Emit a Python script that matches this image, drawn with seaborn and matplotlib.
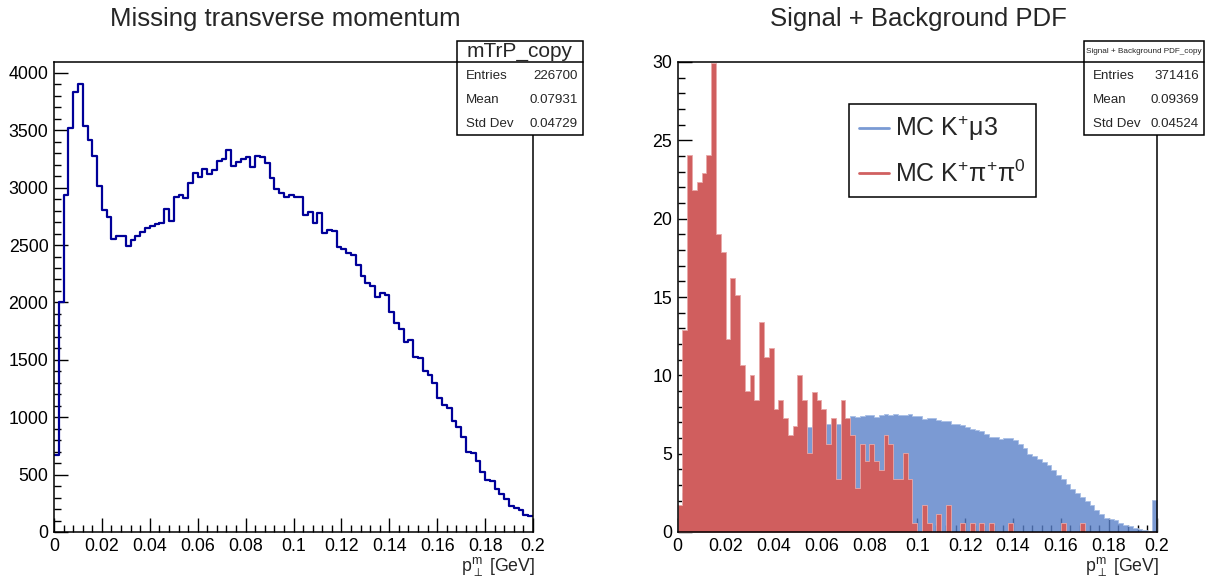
import numpy as np
import matplotlib
matplotlib.use("Agg")
import matplotlib.pyplot as plt
import seaborn as sns
from matplotlib.patches import Rectangle
from matplotlib.lines import Line2D
from matplotlib.ticker import MultipleLocator, FuncFormatter

# ---------------- data ----------------
x_min, x_max, n_bins = 0.0, 0.2, 100

# Missing transverse momentum (left), counts per bin of width 0.002
mtrp_counts = [
    670, 2000, 2937, 3518, 3832, 3904, 3541, 3416, 3280, 3015,
    2806, 2742, 2553, 2582, 2582, 2495, 2545, 2582, 2612, 2652,
    2669, 2681, 2696, 2812, 2714, 2917, 2937, 2914, 3045, 3126,
    3091, 3161, 3120, 3155, 3236, 3253, 3329, 3190, 3227, 3251,
    3271, 3178, 3280, 3265, 3219, 3088, 2986, 2951, 2922, 2937,
    2922, 2922, 2763, 2792, 2690, 2783, 2603, 2632, 2626, 2481,
    2466, 2429, 2414, 2327, 2234, 2167, 2144, 2051, 2080, 2065,
    1920, 1824, 1769, 1659, 1673, 1522, 1513, 1405, 1368, 1295,
    1164, 1106, 1077, 969, 917, 830, 700, 686, 621, 525,
    453, 447, 372, 331, 290, 227, 212, 192, 148, 139,
]

# MC K+mu3 (blue)
kmu3_values = [
    1.2, 2.5, 3.2, 3.7, 4.0, 4.3, 4.5, 4.7, 4.9, 5.05,
    5.2, 5.3, 5.45, 5.55, 5.65, 5.75, 5.85, 5.9, 6.0, 6.05,
    6.1, 6.15, 6.15, 6.1, 6.4, 6.5, 6.6, 6.7, 6.8, 6.85,
    6.9, 6.92, 7.0, 6.92, 7.1, 7.3, 7.38, 7.34, 7.38, 7.49,
    7.45, 7.34, 7.45, 7.56, 7.45, 7.56, 7.45, 7.49, 7.51, 7.38,
    7.38, 7.24, 7.28, 7.28, 7.13, 7.09, 7.09, 6.92, 6.92, 6.81,
    6.7, 6.6, 6.53, 6.45, 6.28, 6.06, 6.06, 5.96, 6.02, 6.02,
    5.9, 5.64, 5.38, 5.0, 4.83, 4.68, 4.47, 4.25, 3.98, 3.66,
    3.4, 3.08, 2.76, 2.5, 2.23, 1.98, 1.7, 1.38, 1.17, 0.92,
    0.85, 0.75, 0.6, 0.43, 0.36, 0.28, 0.21, 0.15, 0.07, 2.07,
]

# MC K+pi+pi0 (red)
k3pi_values = [
    1.70, 12.87, 24.04, 21.8, 22.34, 22.91, 24.04, 29.95, 19.0, 17.87,
    12.3, 16.2, 15.1, 10.64, 8.98, 10.04, 8.4, 13.4, 11.2, 11.74,
    7.87, 8.4, 7.3, 6.17, 6.75, 10.04, 8.4, 5.04, 8.93, 8.4,
    7.83, 5.6, 7.28, 3.36, 8.4, 7.28, 6.17, 2.83, 5.6, 4.51,
    5.6, 4.51, 3.94, 6.17, 5.6, 3.36, 3.36, 5.04, 3.36, 0.58,
    0, 1.7, 0.58, 0, 1.13, 0, 1.7, 0, 0, 0.58,
    0, 0.58, 0, 0.58, 0, 0.58, 0, 0, 0, 0.58,
    0, 0, 0, 0, 0, 0, 0, 0, 0, 0,
    0.58, 0, 0, 0, 0.58, 0, 0, 0, 0, 0,
    0, 0, 0, 0, 0, 0, 0, 0, 0, 0,
]

left_title = "Missing transverse momentum"
right_title = "Signal + Background PDF"
x_label = r"$\mathrm{p}_{\perp}^{\mathrm{m}}$ [GeV]"
legend_labels = ["MC K$^{+}$μ3", "MC K$^{+}$π$^{+}$π$^{0}$"]

left_stats_title = "mTrP_copy"
left_stats = [("Entries", "226700"), ("Mean", "0.07931"), ("Std Dev", "0.04729")]
right_stats_title = "Signal + Background PDF_copy"
right_stats = [("Entries", "371416"), ("Mean", "0.09369"), ("Std Dev", "0.04524")]

left_yticks = [0, 500, 1000, 1500, 2000, 2500, 3000, 3500, 4000]
right_yticks = [0, 5, 10, 15, 20, 25, 30]
xticks = [0, 0.02, 0.04, 0.06, 0.08, 0.1, 0.12, 0.14, 0.16, 0.18, 0.2]

# ---------------- style ----------------
sns.set_style("white")
plt.rcParams["font.family"] = ["Liberation Sans", "DejaVu Sans"]
plt.rcParams["mathtext.fontset"] = "custom"
plt.rcParams["mathtext.rm"] = "Liberation Sans"
plt.rcParams["mathtext.it"] = "Liberation Sans:italic"
plt.rcParams["mathtext.bf"] = "Liberation Sans:bold"
plt.rcParams["mathtext.fallback"] = "stixsans"

W, H = 1205, 580
fig = plt.figure(figsize=(W / 100, H / 100), dpi=100)
fig.patch.set_facecolor("white")

def fx(px):
    return px / W

def fy(py):
    return 1 - py / H

edges = np.linspace(x_min, x_max, n_bins + 1)
centers = (edges[:-1] + edges[1:]) / 2

ax_l = fig.add_axes([fx(54), fy(532), fx(479), 470 / H])
ax_r = fig.add_axes([fx(677.7), fy(532), fx(479), 470 / H])

line_col = "#000099"
blue_col = "#5a81c9"
red_col = "#d05e5e"

sns.histplot(x=centers, weights=mtrp_counts, bins=n_bins, binrange=(x_min, x_max),
             element="step", fill=False, color=line_col, linewidth=1.6, ax=ax_l)

sns.histplot(x=centers, weights=kmu3_values, bins=n_bins, binrange=(x_min, x_max),
             element="step", fill=True, color=blue_col, alpha=0.8,
             edgecolor="#a9bfe6", linewidth=0.6, ax=ax_r)
sns.histplot(x=centers, weights=k3pi_values, bins=n_bins, binrange=(x_min, x_max),
             element="step", fill=True, color=red_col, alpha=1.0,
             edgecolor="#e9a9a9", linewidth=0.6, ax=ax_r)

fmt = FuncFormatter(lambda v, p: ("%g" % round(v, 4)))

for ax, ymax, yt, ymin_step in ((ax_l, 4095, left_yticks, 100), (ax_r, 30, right_yticks, 1)):
    ax.set_xlim(x_min, x_max)
    ax.set_ylim(0, ymax)
    ax.set_xticks(xticks)
    ax.set_yticks(yt)
    ax.xaxis.set_minor_locator(MultipleLocator(0.004))
    ax.yaxis.set_minor_locator(MultipleLocator(ymin_step))
    ax.xaxis.set_major_formatter(fmt)
    ax.yaxis.set_major_formatter(fmt)
    ax.set_xlabel("")
    ax.set_ylabel("")
    ax.tick_params(which="both", direction="in", top=False, right=False,
                   bottom=True, left=True,
                   labelsize=12.8, colors="black", width=1.0, pad=4)
    ax.tick_params(which="major", length=10)
    ax.tick_params(which="minor", length=5)
    for s in ax.spines.values():
        s.set_color("black")
        s.set_linewidth(1.1)
    ax.set_facecolor("white")

ax_r.set_axisbelow(True)

# titles and axis labels
fig.text(fx(285), fy(19), left_title, ha="center", va="center", fontsize=18.5)
fig.text(fx(918), fy(19), right_title, ha="center", va="center", fontsize=18.5)
fig.text(fx(535), fy(566), x_label, ha="right", va="center", fontsize=12.8)
fig.text(fx(1159), fy(566), x_label, ha="right", va="center", fontsize=12.8)

# legend
handles = [Line2D([], [], color="#7a9ad4", lw=2.0), Line2D([], [], color="#d06060", lw=2.0)]
leg = ax_r.legend(handles, legend_labels, loc="upper left",
                  bbox_to_anchor=(fx(849), fy(104)), bbox_transform=fig.transFigure,
                  borderaxespad=0, fontsize=18, frameon=True, fancybox=False,
                  handlelength=1.2, handletextpad=0.25, borderpad=0.4, labelspacing=0.7)
leg.get_frame().set_edgecolor("black")
leg.get_frame().set_linewidth(1.1)
leg.get_frame().set_alpha(1)

# stats boxes
def stats_box(x0, x1, y0, y1, title, title_fs, rows):
    fig.add_artist(Rectangle((fx(x0), fy(y1)), fx(x1 - x0), (y1 - y0) / H,
                             transform=fig.transFigure, facecolor="white",
                             edgecolor="black", linewidth=1.1, zorder=10))
    ysep = y0 + 21
    fig.add_artist(Line2D([fx(x0), fx(x1)], [fy(ysep), fy(ysep)],
                          transform=fig.transFigure, color="black", lw=1.1, zorder=11))
    fig.text(fx((x0 + x1) / 2), fy((y0 + ysep) / 2), title, ha="center", va="center",
             fontsize=title_fs, zorder=12)
    for i, (k, v) in enumerate(rows):
        yc = ysep + 14 + i * 24
        fig.text(fx(x0 + 9), fy(yc), k, ha="left", va="center", fontsize=9.6, zorder=12)
        fig.text(fx(x1 - 5), fy(yc), v, ha="right", va="center", fontsize=9.6, zorder=12)

stats_box(457, 583, 41, 135, left_stats_title, 15, left_stats)
stats_box(1084, 1204, 41, 135, right_stats_title, 5.9, right_stats)

fig.savefig("out.png", dpi=100, facecolor="white")
